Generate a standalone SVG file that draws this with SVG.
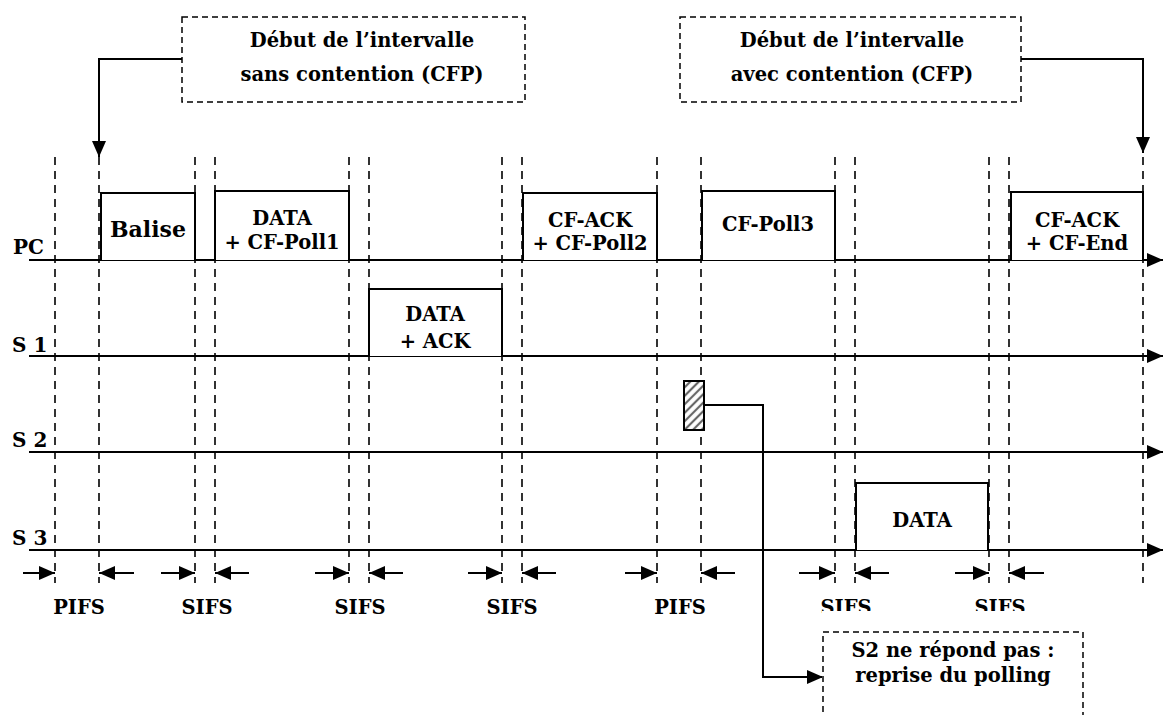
<svg xmlns="http://www.w3.org/2000/svg" width="1163" height="715" viewBox="0 0 1163 715">
<style>
text{font-family:"DejaVu Serif","Liberation Serif",serif;font-weight:bold;fill:#000;text-anchor:middle}
.t{font-size:19.5px}
.big{font-size:22px}
.lbl{font-size:20px;text-anchor:start}
.tl{stroke:#000;stroke-width:2;fill:none}
.vd{stroke:#000;stroke-width:1.6;stroke-dasharray:8 6;fill:none}
.box{stroke:#000;stroke-width:2;fill:#fff}
.note{stroke:#000;stroke-width:1.5;stroke-dasharray:6 4;fill:#fff}
.con{stroke:#000;stroke-width:2;fill:none}
</style>
<defs>
<marker id="ah" viewBox="0 0 16 14" refX="16" refY="7" markerWidth="16" markerHeight="14" orient="auto" markerUnits="userSpaceOnUse"><path d="M0,0 L16,7 L0,14 z" fill="#000"/></marker>
<pattern id="hatch" width="6" height="6" patternUnits="userSpaceOnUse" patternTransform="rotate(45)"><rect width="6" height="6" fill="#fff"/><line x1="2" y1="0" x2="2" y2="6" stroke="#666" stroke-width="2.2"/></pattern>
</defs>
<rect width="1163" height="715" fill="#fff"/>

<g id="dashed-markers">
<line class="vd" x1="55" y1="157" x2="55" y2="583"/>
<line class="vd" x1="99" y1="157" x2="99" y2="583"/>
<line class="vd" x1="195" y1="157" x2="195" y2="583"/>
<line class="vd" x1="215" y1="157" x2="215" y2="583"/>
<line class="vd" x1="349" y1="157" x2="349" y2="583"/>
<line class="vd" x1="369" y1="157" x2="369" y2="583"/>
<line class="vd" x1="502" y1="157" x2="502" y2="583"/>
<line class="vd" x1="522" y1="157" x2="522" y2="583"/>
<line class="vd" x1="657" y1="157" x2="657" y2="583"/>
<line class="vd" x1="701" y1="157" x2="701" y2="583"/>
<line class="vd" x1="835" y1="157" x2="835" y2="583"/>
<line class="vd" x1="855" y1="157" x2="855" y2="583"/>
<line class="vd" x1="989" y1="157" x2="989" y2="583"/>
<line class="vd" x1="1009" y1="157" x2="1009" y2="583"/>
<line class="vd" x1="1143" y1="157" x2="1143" y2="583"/>
</g>

<g id="timelines">
<line class="tl" x1="29" y1="260" x2="1163" y2="260" marker-end="url(#ah)"/>
<line class="tl" x1="29" y1="356" x2="1163" y2="356" marker-end="url(#ah)"/>
<line class="tl" x1="29" y1="452" x2="1163" y2="452" marker-end="url(#ah)"/>
<line class="tl" x1="29" y1="550" x2="1163" y2="550" marker-end="url(#ah)"/>
<text class="lbl" x="13" y="254">PC</text>
<text class="lbl" x="12" y="352">S 1</text>
<text class="lbl" x="12" y="447">S 2</text>
<text class="lbl" x="12" y="545">S 3</text>
</g>

<g id="balise">
<path class="box" d="M101,260 V193 H195 V260"/>
<text class="big" x="148" y="237">Balise</text>
</g>
<g id="data-poll1">
<path class="box" d="M215,260 V191 H349 V260"/>
<text class="t" x="282" y="225">DATA</text>
<text class="t" x="282" y="249">+ CF-Poll1</text>
</g>
<g id="data-ack">
<path class="box" d="M369,356 V289 H502 V356"/>
<text class="t" x="435" y="321">DATA</text>
<text class="t" x="435" y="348">+ ACK</text>
</g>
<g id="cfack-poll2">
<path class="box" d="M523,260 V193 H657 V260"/>
<text class="t" x="590" y="227">CF-ACK</text>
<text class="t" x="590" y="250">+ CF-Poll2</text>
</g>
<g id="cfpoll3">
<path class="box" d="M702,260 V191 H835 V260"/>
<text class="t" x="768" y="231">CF-Poll3</text>
</g>
<g id="cfack-end">
<path class="box" d="M1011,260 V192 H1143 V260"/>
<text class="t" x="1077" y="227">CF-ACK</text>
<text class="t" x="1077" y="250">+ CF-End</text>
</g>
<g id="data-s3">
<path class="box" d="M856,550 V483 H988 V550"/>
<text class="t" x="922" y="527">DATA</text>
</g>
<g id="s2-noresponse">
<rect x="684" y="381" width="20" height="49" fill="url(#hatch)" stroke="#000" stroke-width="2"/>
</g>

<g id="intervals">
<line class="con" x1="23" y1="573" x2="55" y2="573" marker-end="url(#ah)"/>
<line class="con" x1="134" y1="573" x2="99" y2="573" marker-end="url(#ah)"/>
<line class="con" x1="161" y1="573" x2="195" y2="573" marker-end="url(#ah)"/>
<line class="con" x1="249" y1="573" x2="215" y2="573" marker-end="url(#ah)"/>
<line class="con" x1="315" y1="573" x2="349" y2="573" marker-end="url(#ah)"/>
<line class="con" x1="403" y1="573" x2="369" y2="573" marker-end="url(#ah)"/>
<line class="con" x1="468" y1="573" x2="502" y2="573" marker-end="url(#ah)"/>
<line class="con" x1="556" y1="573" x2="522" y2="573" marker-end="url(#ah)"/>
<line class="con" x1="625" y1="573" x2="657" y2="573" marker-end="url(#ah)"/>
<line class="con" x1="735" y1="573" x2="701" y2="573" marker-end="url(#ah)"/>
<line class="con" x1="799" y1="573" x2="835" y2="573" marker-end="url(#ah)"/>
<line class="con" x1="889" y1="573" x2="855" y2="573" marker-end="url(#ah)"/>
<line class="con" x1="955" y1="573" x2="989" y2="573" marker-end="url(#ah)"/>
<line class="con" x1="1044" y1="573" x2="1009" y2="573" marker-end="url(#ah)"/>
<text class="t" x="79" y="614">PIFS</text>
<text class="t" x="207" y="614">SIFS</text>
<text class="t" x="360" y="614">SIFS</text>
<text class="t" x="512" y="614">SIFS</text>
<text class="t" x="680" y="614">PIFS</text>
<text class="t" x="846" y="614">SIFS</text>
<text class="t" x="1000" y="614">SIFS</text>
</g>

<g id="connectors">
<path class="con" d="M182,59 H99 V157" marker-end="url(#ah)"/>
<path class="con" d="M1021,59 H1143 V153" marker-end="url(#ah)"/>
<path class="con" d="M704,405 H763 V677 H823" marker-end="url(#ah)"/>
</g>

<g id="note-cfp-start">
<rect class="note" x="182" y="17" width="343" height="85"/>
<text class="t" x="362" y="47">Début de l’intervalle</text>
<text class="t" x="362" y="81">sans contention (CFP)</text>
</g>
<g id="note-cp-start">
<rect class="note" x="680" y="17" width="341" height="85"/>
<text class="t" x="852" y="47">Début de l’intervalle</text>
<text class="t" x="852" y="81">avec contention (CFP)</text>
</g>
<g id="note-s2">
<rect x="822" y="611" width="263" height="110" fill="#fff"/>
<rect class="note" x="823" y="632" width="260" height="95"/>
<text class="t" x="953" y="657">S2 ne répond pas :</text>
<text class="t" x="953" y="682">reprise du polling</text>
</g>
</svg>
